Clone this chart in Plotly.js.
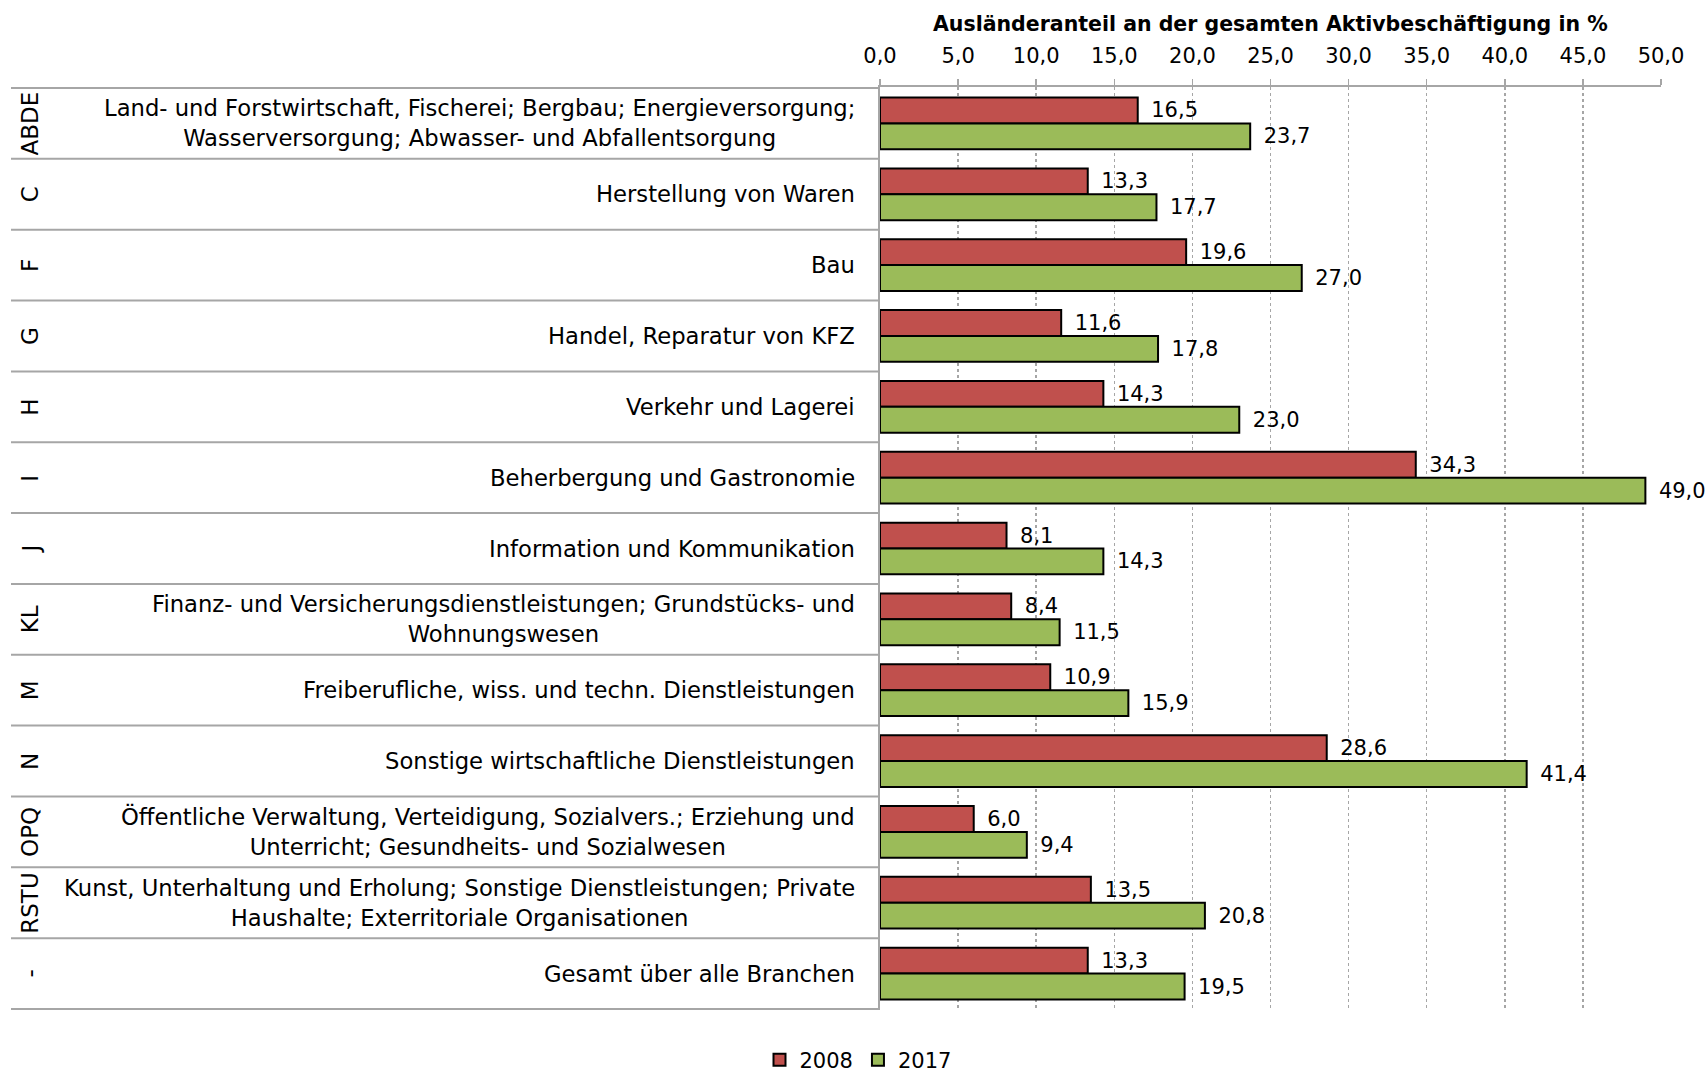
<!DOCTYPE html>
<html>
<head>
<meta charset="utf-8">
<script src="https://cdn.plot.ly/plotly-3.0.1.min.js"></script>
<style>html,body{margin:0;padding:0;background:#fff;}#chart{width:1706px;height:1075px;}</style>
</head>
<body>
<div id="chart"></div>
<script>
const codes = ["ABDE","C","F","G","H","I","J","KL","M","N","OPQ","RSTU","-"];
const categories = [
  "Land- und Forstwirtschaft, Fischerei; Bergbau; Energieversorgung;<br>Wasserversorgung; Abwasser- und Abfallentsorgung",
  "Herstellung von Waren",
  "Bau",
  "Handel, Reparatur von KFZ",
  "Verkehr und Lagerei",
  "Beherbergung und Gastronomie",
  "Information und Kommunikation",
  "Finanz- und Versicherungsdienstleistungen; Grundstücks- und<br>Wohnungswesen",
  "Freiberufliche, wiss. und techn. Dienstleistungen",
  "Sonstige wirtschaftliche Dienstleistungen",
  "Öffentliche Verwaltung, Verteidigung, Sozialvers.; Erziehung und<br>Unterricht; Gesundheits- und Sozialwesen",
  "Kunst, Unterhaltung und Erholung; Sonstige Dienstleistungen; Private<br>Haushalte; Exterritoriale Organisationen",
  "Gesamt über alle Branchen"
];
const values2008 = [16.5,13.3,19.6,11.6,14.3,34.3,8.1,8.4,10.9,28.6,6.0,13.5,13.3];
const values2017 = [23.7,17.7,27.0,17.8,23.0,49.0,14.3,11.5,15.9,41.4,9.4,20.8,19.5];
const xTicks = [0,5,10,15,20,25,30,35,40,45,50];
const seriesNames = ["2008","2017"];
const titleText = "Ausländeranteil an der gesamten Aktivbeschäftigung in %";

const W = 1706, H = 1075;
const mL = 880, mR = 45, mT = 87, mB = 65;
const pw = W - mL - mR, ph = H - mT - mB;
const px2x = p => (p - mL) / pw;
const FONT = "DejaVu Sans, sans-serif";
const GRAY = "#A6A6A6";

function barTrace(name, vals, color) {
  return {
    type: "bar", orientation: "h", name: name,
    x: vals, y: codes,
    marker: {color: color, line: {color: "#000", width: 2}},
    texttemplate: "\u2002%{x:.1f}", textposition: "outside",
    textfont: {family: FONT, size: 21, color: "#000"},
    cliponaxis: false, constraintext: "none", hoverinfo: "x+name"
  };
}

const shapes = [];
for (let i = 0; i <= codes.length; i++) {
  shapes.push({type: "line", xref: "paper", yref: "y", x0: px2x(11), x1: px2x(879), y0: i - 0.5, y1: i - 0.5,
    line: {color: GRAY, width: 2}});
}

const annotations = [];
codes.forEach((c, i) => {
  annotations.push({xref: "paper", yref: "y", x: px2x(30), y: c, text: c, showarrow: false,
    textangle: -90, xanchor: "center", yanchor: "middle", font: {family: FONT, size: 23, color: "#000"}});
  annotations.push({xref: "paper", yref: "y", x: px2x(857), y: c, text: categories[i], showarrow: false,
    xanchor: "right", yanchor: "middle", align: "center", font: {family: FONT, size: 22.7, color: "#000"}});
});
annotations.push({xref: "paper", yref: "paper", x: 0.5, y: 1 + (mT - 24) / ph, text: "<b>" + titleText + "</b>",
  showarrow: false, xanchor: "center", yanchor: "middle", font: {family: FONT, size: 20.5, color: "#000"}});

const layout = {
  width: W, height: H,
  margin: {l: mL, r: mR, t: mT, b: mB, pad: 0, autoexpand: false},
  paper_bgcolor: "#fff", plot_bgcolor: "#fff",
  separators: ",.",
  barmode: "group", bargap: 0.27, bargroupgap: 0,
  font: {family: FONT, size: 21, color: "#000"},
  xaxis: {
    range: [0, 50], side: "top", tickvals: xTicks, tickformat: ".1f",
    showgrid: true, gridcolor: GRAY, griddash: "dot", gridwidth: 1.5,
    showline: true, linecolor: GRAY, linewidth: 2, zeroline: false,
    ticks: "outside", ticklen: 6, tickcolor: GRAY, tickwidth: 1.5, ticklabelstandoff: 8,
    tickfont: {family: FONT, size: 21, color: "#000"}, fixedrange: true, automargin: false
  },
  yaxis: {
    type: "category", autorange: "reversed", showticklabels: false, automargin: false,
    showline: true, linecolor: GRAY, linewidth: 2, showgrid: false, zeroline: false, ticks: "", fixedrange: true
  },
  showlegend: true,
  legend: {orientation: "h", xref: "container", yref: "container", x: 858 / W, xanchor: "center",
    y: (H - 1060) / H, yanchor: "middle", borderwidth: 0,
    font: {family: FONT, size: 21, color: "#000"}, itemwidth: 30, traceorder: "normal"},
  shapes: shapes, annotations: annotations
};

Plotly.newPlot("chart", [barTrace(seriesNames[0], values2008, "#C0504D"), barTrace(seriesNames[1], values2017, "#9BBB59")], layout, {displayModeBar: false, staticPlot: true});
</script>
</body>
</html>
